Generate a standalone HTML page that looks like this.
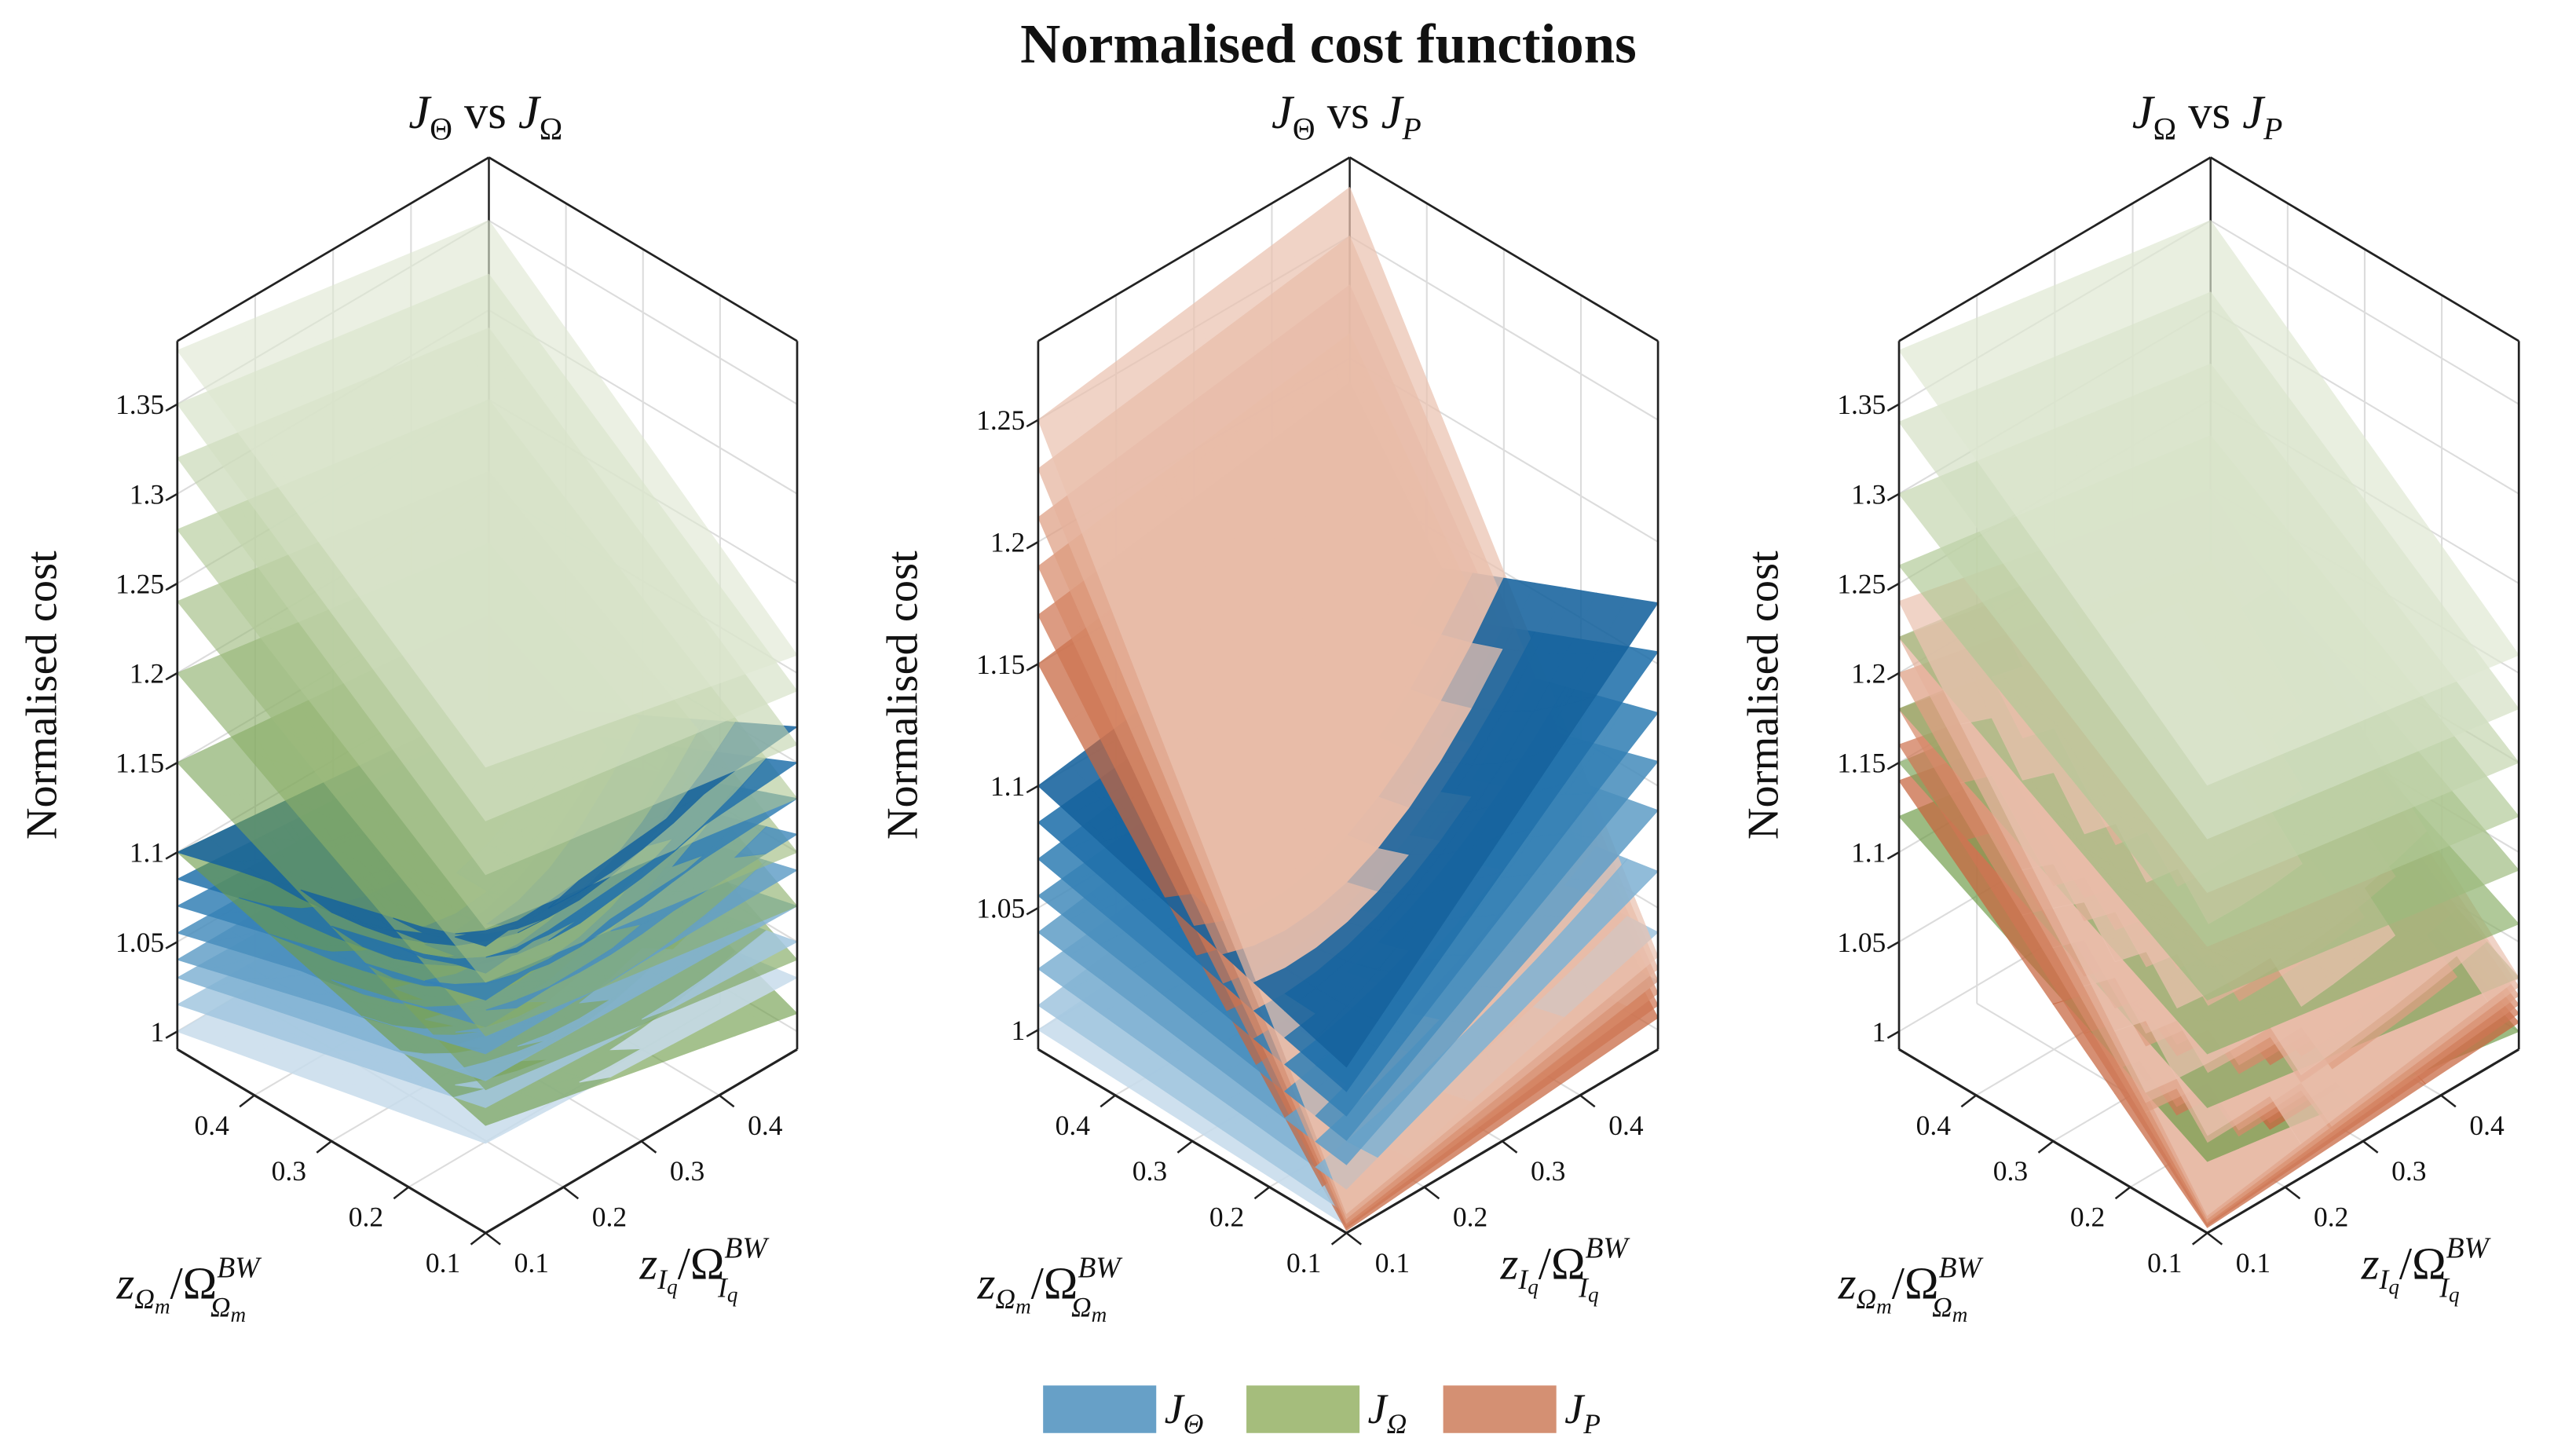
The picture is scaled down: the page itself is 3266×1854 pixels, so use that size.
<!DOCTYPE html>
<html><head><meta charset="utf-8"><style>
html,body{margin:0;padding:0;background:#fff;}
svg{display:block;}
text{font-family:"Liberation Serif","DejaVu Serif",serif;fill:#111;}
</style></head><body>
<svg id="chart" width="3266" height="1854" viewBox="0 0 1564 888" xmlns="http://www.w3.org/2000/svg">
<text x="810" y="38" text-anchor="middle" font-size="34" font-weight="bold">Normalised cost functions</text>
<g id="panels"></g>
<g>
 <rect x="636" y="845" width="69" height="29" fill="#67a0c7"/>
 <text x="710" y="868" font-size="26" font-style="italic">J<tspan font-size="17" dy="6">Θ</tspan></text>
 <rect x="760" y="845" width="69" height="29" fill="#a5bd7c"/>
 <text x="834" y="868" font-size="26" font-style="italic">J<tspan font-size="17" dy="6">Ω</tspan></text>
 <rect x="880" y="845" width="69" height="29" fill="#d49073"/>
 <text x="954" y="868" font-size="26" font-style="italic">J<tspan font-size="17" dy="6">P</tspan></text>
</g>
</svg>
<script>
// ---- data ----
const xTicks = [0.1, 0.2, 0.3, 0.4];
const yTicks = [0.1, 0.2, 0.3, 0.4];
const zTicks1 = [1, 1.05, 1.1, 1.15, 1.2, 1.25, 1.3, 1.35];
const zTicks2 = [1, 1.05, 1.1, 1.15, 1.2, 1.25];
// J_Omega layers, panel 1 (corner values: front=(0.1,0.1), left=(0.5,0.1), right=(0.1,0.5), back=(0.5,0.5))
const g1Front = [1.25,1.22,1.19,1.16,1.13,1.10,1.07,1.05];
const g1Left  = [1.38,1.35,1.32,1.28,1.24,1.20,1.15,1.10];
const g1Right = [1.21,1.19,1.16,1.13,1.10,1.07,1.04,1.01];
const g1Back  = [1.35,1.32,1.29,1.25,1.21,1.17,1.13,1.08];
const g1Mid   = [1.22,1.19,1.16,1.13,1.10,1.07,1.04,1.02];
// J_Theta layers, panel 1
const b1Front = [1.15,1.135,1.12,1.105,1.09,1.075,1.06,1.04];
const b1Left  = [1.10,1.085,1.07,1.055,1.04,1.03,1.015,1.0];
const b1Right = [1.17,1.15,1.13,1.11,1.09,1.07,1.05,1.03];
const b1Back  = [1.08,1.07,1.06,1.05,1.04,1.025,1.01,1.0];
const b1Mid   = [1.06,1.05,1.04,1.03,1.02,1.01,0.998,0.99];
// J_P layers, panel 2
const p2Front = [1.0,0.998,0.996,0.995,0.994,0.993];
const p2Left  = [1.25,1.23,1.21,1.19,1.17,1.15];
const p2Right = [1.03,1.025,1.02,1.015,1.01,1.005];
const p2Back  = [1.27,1.25,1.23,1.21,1.19,1.17];
const p2Mid   = [1.12,1.11,1.10,1.09,1.08,1.07];
// J_Theta layers, panel 2
const b2Front = [1.06,1.05,1.04,1.03,1.02,1.01,1.0,0.995];
const b2Left  = [1.10,1.085,1.07,1.055,1.04,1.025,1.01,1.0];
const b2Right = [1.175,1.155,1.13,1.11,1.09,1.065,1.04,1.02];
const b2Back  = [1.12,1.10,1.09,1.07,1.06,1.04,1.03,1.01];
const b2Mid   = [1.08,1.07,1.06,1.05,1.035,1.02,1.01,1.0];
// J_Omega layers, panel 3
const g3Front = [1.24,1.21,1.18,1.15,1.12,1.09,1.06,1.03];
const g3Left  = [1.38,1.34,1.30,1.26,1.22,1.18,1.15,1.12];
const g3Right = [1.21,1.18,1.15,1.12,1.09,1.06,1.03,1.0];
const g3Back  = [1.35,1.31,1.27,1.23,1.19,1.15,1.12,1.09];
const g3Mid   = [1.21,1.18,1.15,1.12,1.09,1.06,1.03,1.01];
// J_P layers, panel 3
const p3Front = [1.0,0.998,0.996,0.995,0.994,0.993];
const p3Left  = [1.24,1.22,1.20,1.18,1.16,1.14];
const p3Right = [1.03,1.025,1.02,1.015,1.01,1.005];
const p3Back  = [1.20,1.18,1.16,1.14,1.12,1.10];
const p3Mid   = [1.10,1.09,1.08,1.07,1.06,1.05];

// ---- styling (not data) ----
const blueCols = ["#16639e","#2271ab","#3581b6","#4a8fbe","#64a0c8","#82b3d4","#a3c7e0","#c8dcec"];
const greenCols = ["#dfe8d2","#d3e0c3","#c3d5ad","#b1c996","#9dbb7e","#8cb06a","#7ca55a","#6e9c48"];
const peachCols = ["#ebc3b1","#e6b39d","#df9f83","#d78a6a","#cf7653","#c7653e"];
const NS = "http://www.w3.org/2000/svg";
const root = document.getElementById('panels');
function el(tag, attrs, parent){const e=document.createElementNS(NS,tag);for(const k in attrs)e.setAttribute(k,attrs[k]);parent.appendChild(e);return e;}

const panels = [
 {cx:296, zmin:0.99, k:1093, zt:zTicks1,
  fams:[{name:'j-omega',cols:greenCols,op:0.62,F:g1Front,L:g1Left,R:g1Right,B:g1Back,M:g1Mid},
        {name:'j-theta',cols:blueCols,op:0.85,F:b1Front,L:b1Left,R:b1Right,B:b1Back,M:b1Mid}]},
 {cx:821, zmin:0.992, k:1488, zt:zTicks2,
  fams:[{name:'j-p',cols:peachCols,op:0.72,F:p2Front,L:p2Left,R:p2Right,B:p2Back,M:p2Mid},
        {name:'j-theta',cols:blueCols,op:0.88,F:b2Front,L:b2Left,R:b2Right,B:b2Back,M:b2Mid}]},
 {cx:1346, zmin:0.99, k:1093, zt:zTicks1,
  fams:[{name:'j-omega',cols:greenCols,op:0.68,F:g3Front,L:g3Left,R:g3Right,B:g3Back,M:g3Mid},
        {name:'j-p',cols:peachCols,op:0.72,F:p3Front,L:p3Left,R:p3Right,B:p3Back,M:p3Mid}]}
];
const titleParts = [["Θ","Ω"],["Θ","P"],["Ω","P"]];

function surfZ(f,i,u,v){
  const bil=f.F[i]*(1-u)*(1-v)+f.L[i]*u*(1-v)+f.R[i]*(1-u)*v+f.B[i]*u*v;
  const c0=(f.F[i]+f.L[i]+f.R[i]+f.B[i])/4;
  return bil+(f.M[i]-c0)*16*u*(1-u)*v*(1-v);
}

panels.forEach((p,pi)=>{
  const g = el('g',{},root);
  
  
  const P=(x,y,z)=>[p.cx-(x-0.1)/0.4*188+(y-0.1)/0.4*190, 752-(x-0.1)/0.4*112-(y-0.1)/0.4*112-(z-p.zmin)*p.k];
  const zmax = p.zmin + 432/p.k;
  const line=(a,b,st,w,parent)=>el('line',{x1:a[0],y1:a[1],x2:b[0],y2:b[1],stroke:st,'stroke-width':w},parent);
  const grid = el('g',{},g);
  
  
  [0.2,0.3,0.4].forEach(v=>{
    line(P(0.5,v,p.zmin),P(0.5,v,zmax),'#dcdcdc',1,grid);
    line(P(v,0.5,p.zmin),P(v,0.5,zmax),'#dcdcdc',1,grid);
    line(P(v,0.1,p.zmin),P(v,0.5,p.zmin),'#dcdcdc',1,grid);
    line(P(0.1,v,p.zmin),P(0.5,v,p.zmin),'#dcdcdc',1,grid);
  });
  p.zt.forEach(z=>{
    line(P(0.5,0.1,z),P(0.5,0.5,z),'#dcdcdc',1,grid);
    line(P(0.5,0.5,z),P(0.1,0.5,z),'#dcdcdc',1,grid);
  });
  line(P(0.5,0.5,p.zmin),P(0.5,0.5,zmax),'#222',1.2,g);

  // surfaces: painter order by strata of family A layers
  const N=10;
  const A=p.fams[0], B=p.fams[1];
  const orderA=A.F.map((_,i)=>i).reverse(); // bottom-first
  const orderB=B.F.map((_,i)=>i).reverse();
  const stratum=(i,u,v)=>{const zb=surfZ(B,i,u,v);let c=0;orderA.forEach(j=>{if(surfZ(A,j,u,v)<zb)c++;});return c;};
  const cellPts=(f,i,a,b)=>[[a,b],[a+1,b],[a+1,b+1],[a,b+1]].map(([s,t])=>{const u=s/N,v=t/N;return P(0.1+0.4*u,0.1+0.4*v,surfZ(f,i,u,v));});
  const drawLayer=(f,i,filter,tag)=>{
    const sg=el('g',{opacity:f.op,fill:f.cols[i],stroke:f.cols[i],'stroke-width':0.5},g);
    
    
    for(let a=0;a<N;a++)for(let b=0;b<N;b++){
      const uc=(a+0.5)/N, vc=(b+0.5)/N;
      if(!filter(uc,vc))continue;
      const pts=cellPts(f,i,a,b);
      el('polygon',{points:pts.map(q=>q[0].toFixed(1)+','+q[1].toFixed(1)).join(' ')},sg);
    }
  };
  for(let s=0;s<=orderA.length;s++){
    orderB.forEach(i=>drawLayer(B,i,(u,v)=>stratum(i,u,v)===s,'-part-'+s));
    if(s<orderA.length) drawLayer(A,orderA[s],()=>true,'');
  }

  // box
  const box = el('g',{},g);
  
  
  line(P(0.5,0.1,zmax),P(0.5,0.5,zmax),'#222',1.3,box);
  line(P(0.5,0.5,zmax),P(0.1,0.5,zmax),'#222',1.3,box);
  line(P(0.5,0.1,p.zmin),P(0.5,0.1,zmax),'#222',1.3,box);
  line(P(0.1,0.5,p.zmin),P(0.1,0.5,zmax),'#222',1.3,box);
  line(P(0.5,0.1,p.zmin),P(0.1,0.1,p.zmin),'#222',1.5,box);
  line(P(0.1,0.1,p.zmin),P(0.1,0.5,p.zmin),'#222',1.5,box);
  p.zt.forEach(z=>{
    const q=P(0.5,0.1,z);
    line(q,[q[0]-7,q[1]+4],'#222',1.2,g);
    const t=el('text',{x:q[0]-8,y:q[1]+6,'text-anchor':'end','font-size':17},g);
    
    
    t.textContent=String(z);
  });
  xTicks.forEach(v=>{
    const q=P(v,0.1,p.zmin);
    line(q,[q[0]-9,q[1]+7],'#222',1.2,g);
    const t=el('text',{x:q[0]-26,y:q[1]+24,'text-anchor':'middle','font-size':17},g);
    
    
    t.textContent=String(v);
  });
  yTicks.forEach(v=>{
    const q=P(0.1,v,p.zmin);
    line(q,[q[0]+9,q[1]+7],'#222',1.2,g);
    const t=el('text',{x:q[0]+28,y:q[1]+24,'text-anchor':'middle','font-size':17},g);
    
    
    t.textContent=String(v);
  });
  const tp=titleParts[pi];
  const tt=el('text',{x:p.cx,y:78,'text-anchor':'middle','font-size':29},g);
  
  
  tt.innerHTML='<tspan font-style="italic">J</tspan><tspan font-size="19" dy="7">'+tp[0]+'</tspan><tspan dy="-7"> vs </tspan><tspan font-style="italic">J</tspan><tspan font-size="19" dy="7" font-style="'+(tp[1]==='P'?'italic':'normal')+'">'+tp[1]+'</tspan>';
  const yl=el('text',{x:0,y:0,'text-anchor':'middle','font-size':27,transform:'translate('+(p.cx-262)+',424) rotate(-90)'},g);
  
  
  yl.textContent='Normalised cost';
  const xl=el('text',{x:p.cx-225,y:792,'font-size':28,'font-style':'italic'},g);
  
  
  xl.innerHTML='z<tspan font-size="17" dy="6">Ω</tspan><tspan font-size="13" dy="3">m</tspan><tspan dy="-9" font-style="normal">/Ω</tspan><tspan font-size="18" dy="-13">BW</tspan><tspan font-size="17" dx="-30" dy="24">Ω</tspan><tspan font-size="13" dy="3">m</tspan>';
  const ylb=el('text',{x:p.cx+94,y:780,'font-size':28,'font-style':'italic'},g);
  
  
  ylb.innerHTML='z<tspan font-size="17" dy="6">I</tspan><tspan font-size="13" dy="3">q</tspan><tspan dy="-9" font-style="normal">/Ω</tspan><tspan font-size="18" dy="-13">BW</tspan><tspan font-size="17" dx="-30" dy="24">I</tspan><tspan font-size="13" dy="3">q</tspan>';
});
</script>
</body></html>
